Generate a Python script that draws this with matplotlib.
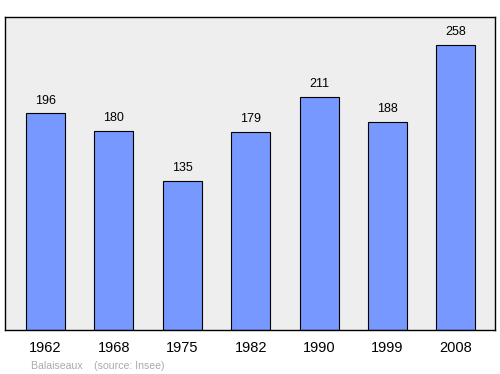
import matplotlib
matplotlib.use('Agg')
from matplotlib import pyplot as plt

years = ["1962", "1968", "1975", "1982", "1990", "1999", "2008"]
population = [196, 180, 135, 179, 211, 188, 258]

plt.rcParams['font.family'] = 'Liberation Sans'

fig = plt.figure(figsize=(5, 3.74), dpi=100)
ax = fig.add_axes([0.01, 0.1176, 0.98, 0.8369])
ax.set_facecolor('#eeeeee')

x = range(len(years))
ax.bar(x, population, width=0.57, color='#7799ff', edgecolor='black', linewidth=0.8)
for i, v in zip(x, population):
    ax.text(i, v + 11.5, str(v), ha='center', va='center', fontsize=9)

ax.set_xlim(-0.59, 6.57)
ax.set_ylim(0, 283)
ax.set_xticks(list(x))
ax.set_xticklabels(years, fontsize=10.5)
ax.tick_params(axis='x', length=0, pad=8)
ax.set_yticks([])
for s in ax.spines.values():
    s.set_linewidth(1)

fig.text(0.062, 0.014, "Balaiseaux    (source: Insee)", fontsize=7.6, color='#aaaaaa')

plt.savefig('out.png')
